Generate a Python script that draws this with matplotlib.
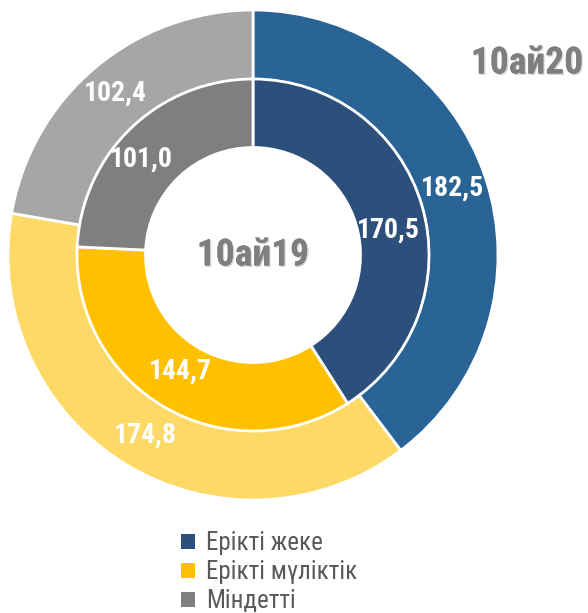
import matplotlib.pyplot as plt
import matplotlib.patheffects as pe
from matplotlib.patches import Patch

# data
categories = ["Ерікті жеке", "Ерікті мүліктік", "Міндетті"]
values_20 = [182.5, 174.8, 102.4]   # outer ring, 10ай20
values_19 = [170.5, 144.7, 101.0]   # inner ring, 10ай19

outer_colors = ["#2A6496", "#FFD966", "#A6A6A6"]
inner_colors = ["#2D4F7C", "#FFC000", "#7F7F7F"]
legend_colors = ["#2D4F7C", "#FFC000", "#7F7F7F"]

FONT = ["Roboto Condensed", "DejaVu Sans"]

W, H = 588, 613
fig = plt.figure(figsize=(W / 100, H / 100), dpi=100)

# pie axes, centre (253, 255) px from top-left, radius 245 px
R = 245
cx, cy = 253, 255
ax = fig.add_axes([(cx - R) / W, (H - cy - R) / H, 2 * R / W, 2 * R / H])

def fmt(vals):
    tot = sum(vals)
    return lambda p: f"{p * tot / 100:.1f}".replace(".", ",")

label_kw = dict(color="white", fontsize=20, fontweight="bold", family=FONT)

_, _, outer_txt = ax.pie(values_20, radius=1.0, colors=outer_colors, startangle=90, counterclock=False,
                         wedgeprops=dict(width=0.283, edgecolor="white", linewidth=2),
                         autopct=fmt(values_20), pctdistance=0.86, textprops=label_kw)

r_in = 176 / R
_, _, inner_txt = ax.pie(values_19, radius=r_in, colors=inner_colors, startangle=90, counterclock=False,
                         wedgeprops=dict(width=r_in - 107.5 / R, edgecolor="white", linewidth=2),
                         autopct=fmt(values_19), pctdistance=0.8, textprops=label_kw)

# small nudges of label positions (pixels, y up) to match the original layout
outer_nudge = [(0, 0), (2, 0), (-2, 1)]
inner_nudge = [(0, -15), (-2, 6), (-14, -6)]
for txts, nudges in ((outer_txt, outer_nudge), (inner_txt, inner_nudge)):
    for t, (dx, dy) in zip(txts, nudges):
        x, y = t.get_position()
        t.set_position((x + dx / R, y + dy / R))

ax.set_xlim(-1, 1)
ax.set_ylim(-1, 1)
ax.set_aspect("equal")
ax.axis("off")

shadow = [pe.withSimplePatchShadow(offset=(1, -1), shadow_rgbFace="#bbbbbb", alpha=0.6), pe.Normal()]
ax.text(0, 0, "10ай19", ha="center", va="center", color="#7F7F7F",
        fontsize=27, fontweight="bold", family=FONT, path_effects=shadow)
fig.text(527 / W, 1 - 63 / H, "10ай20", ha="center", va="center", color="#7F7F7F",
         fontsize=27, fontweight="bold", family=FONT, path_effects=shadow)

handles = [Patch(facecolor=c) for c in legend_colors]
fig.legend(handles, categories, loc="upper left", bbox_to_anchor=(181 / W, 1 - 531 / H),
           frameon=False, handlelength=0.55, handleheight=0.55,
           handletextpad=0.45, labelspacing=0.2, borderaxespad=0, borderpad=0,
           prop=dict(family=FONT, size=18), labelcolor="#595959")

fig.savefig("out.png", dpi=100)
